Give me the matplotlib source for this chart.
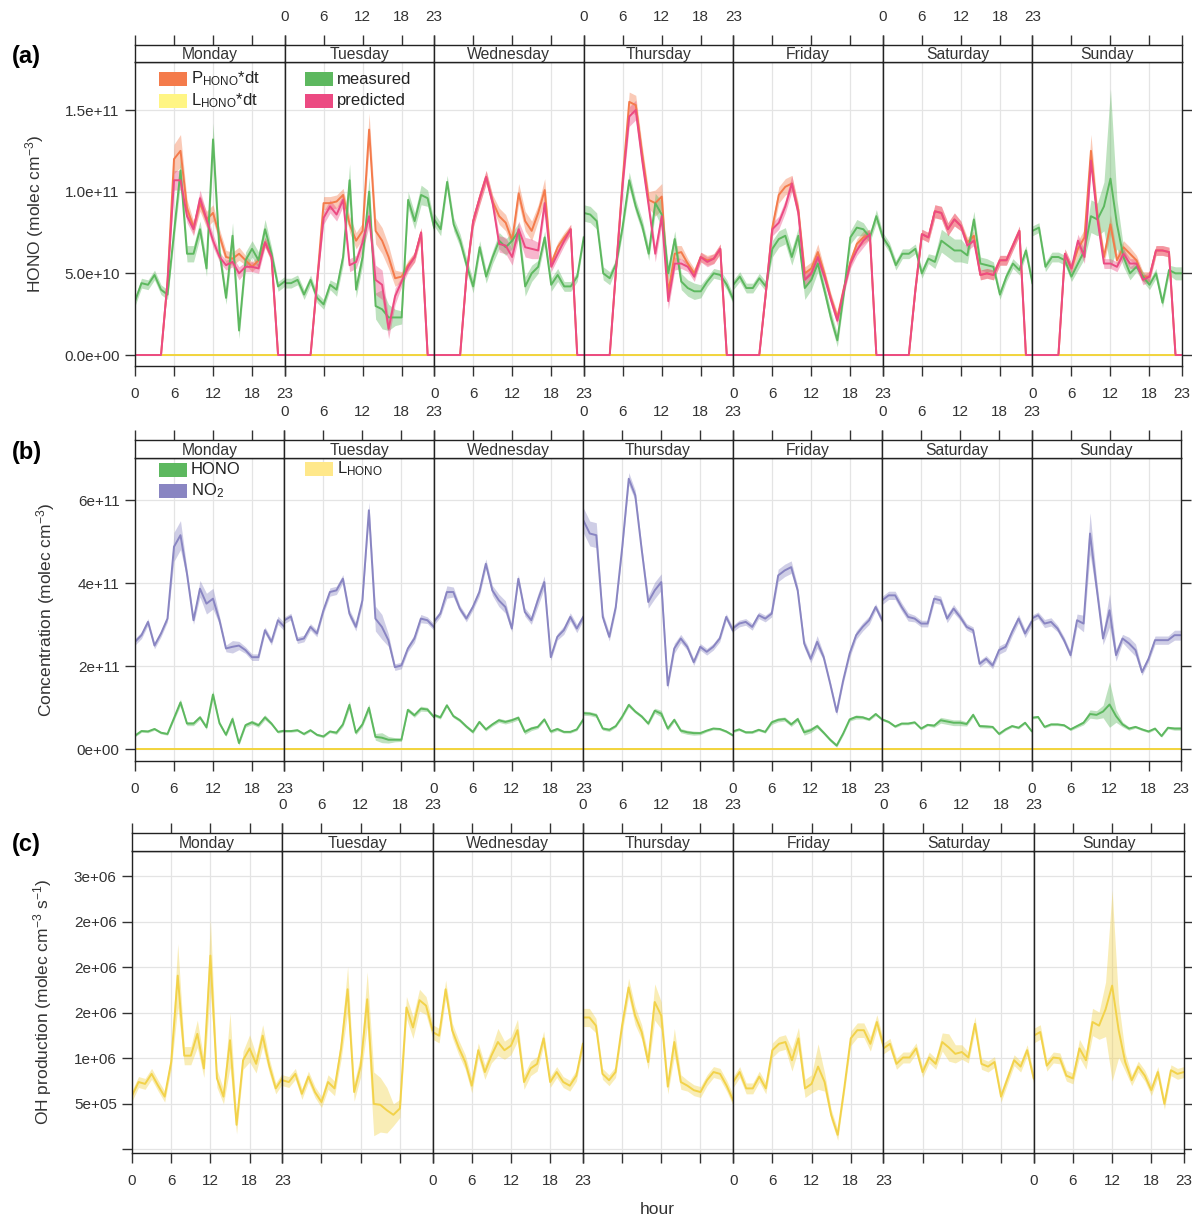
import numpy as np
import matplotlib
matplotlib.use('Agg')
import matplotlib.pyplot as plt
from matplotlib.patches import Rectangle

plt.rcParams['font.family'] = ['Liberation Sans', 'DejaVu Sans']
plt.rcParams['mathtext.default'] = 'regular'

days = ['Monday', 'Tuesday', 'Wednesday', 'Thursday', 'Friday', 'Saturday', 'Sunday']
hours = np.arange(24)

# panel (a): HONO, units of 1e10 molec cm-3, one row of 24 hours per day
measured = [
    [3.3, 4.4, 4.3, 4.9, 4.0, 3.7, 7.5, 11.3, 6.2, 6.2, 7.7, 5.3, 13.2, 6.3, 3.5, 7.3, 1.5, 5.8, 6.5, 5.8, 7.7, 6.2, 4.2, 4.5],
    [4.4, 4.4, 4.6, 3.7, 4.6, 3.5, 3.1, 4.3, 4.0, 6.0, 10.7, 4.0, 6.0, 10.0, 3.0, 2.8, 2.3, 2.3, 2.3, 9.5, 8.2, 9.8, 9.6, 7.8],
    [8.3, 7.7, 10.6, 8.0, 7.0, 5.5, 4.2, 6.6, 4.8, 6.0, 7.0, 6.6, 7.0, 7.6, 4.2, 5.0, 5.4, 7.2, 4.3, 4.9, 4.2, 4.2, 4.8, 7.2],
    [8.7, 8.6, 8.2, 5.0, 4.7, 5.6, 7.9, 10.7, 9.1, 7.9, 6.2, 9.3, 8.6, 5.0, 7.1, 4.5, 4.1, 3.9, 3.9, 4.5, 5.0, 4.9, 4.3, 3.4],
    [4.3, 4.8, 4.1, 4.1, 4.7, 4.2, 6.5, 7.1, 7.3, 6.0, 7.3, 4.1, 4.6, 5.6, 4.0, 2.3, 0.9, 3.8, 7.2, 7.8, 7.7, 7.2, 8.5, 7.2],
    [7.2, 6.6, 5.5, 6.2, 6.2, 6.5, 5.0, 5.9, 5.7, 7.0, 6.7, 6.4, 6.4, 6.1, 8.3, 5.6, 5.5, 5.4, 3.7, 4.8, 5.6, 5.2, 6.4, 4.4],
    [7.6, 7.8, 5.4, 6.0, 6.0, 5.8, 4.8, 5.6, 6.4, 8.5, 8.3, 9.1, 10.8, 8.0, 6.0, 5.0, 5.4, 4.8, 4.3, 5.0, 3.2, 5.2, 5.0, 5.0],
]
measured_w = [
    [0.3, 0.3, 0.3, 0.3, 0.3, 0.3, 0.5, 0.8, 0.5, 0.5, 0.5, 0.5, 1.0, 0.5, 0.4, 0.8, 0.5, 0.5, 0.5, 0.5, 0.6, 0.4, 0.3, 0.3],
    [0.3, 0.3, 0.3, 0.3, 0.3, 0.3, 0.3, 0.3, 0.4, 0.5, 1.0, 0.5, 0.5, 0.9, 0.8, 1.2, 0.8, 0.5, 0.4, 0.5, 0.5, 0.6, 0.5, 0.4],
    [0.4, 0.4, 0.4, 0.4, 0.4, 0.4, 0.4, 0.4, 0.4, 0.4, 0.5, 0.5, 0.5, 0.5, 0.6, 0.5, 0.4, 0.4, 0.4, 0.4, 0.3, 0.3, 0.3, 0.3],
    [0.5, 0.5, 0.5, 0.4, 0.4, 0.3, 0.4, 0.5, 0.4, 0.4, 0.4, 0.6, 0.8, 0.5, 0.5, 0.5, 0.5, 0.5, 0.4, 0.3, 0.3, 0.3, 0.3, 0.3],
    [0.3, 0.3, 0.3, 0.3, 0.3, 0.3, 0.5, 0.5, 0.5, 0.5, 0.5, 0.7, 0.6, 0.5, 0.4, 0.4, 0.4, 0.4, 0.4, 0.5, 0.4, 0.3, 0.4, 0.3],
    [0.3, 0.3, 0.3, 0.3, 0.3, 0.3, 0.3, 0.3, 0.4, 0.7, 0.7, 0.7, 0.7, 0.5, 0.5, 0.4, 0.4, 0.3, 0.3, 0.3, 0.3, 0.3, 0.3, 0.3],
    [0.3, 0.3, 0.3, 0.3, 0.3, 0.3, 0.3, 0.4, 0.5, 1.0, 1.0, 1.5, 5.5, 1.5, 0.6, 0.4, 0.3, 0.3, 0.3, 0.3, 0.3, 0.3, 0.4, 0.4],
]
predicted = [
    [0, 0, 0, 0, 0, 4.5, 10.7, 10.7, 8.5, 7.7, 9.6, 8.3, 7.0, 6.0, 5.5, 5.7, 5.0, 5.4, 5.4, 5.3, 6.9, 6.0, 0, 0],
    [0, 0, 0, 0, 0, 4.5, 8.4, 9.1, 8.6, 9.5, 5.5, 5.7, 6.9, 8.5, 4.6, 4.3, 1.6, 3.6, 4.5, 5.4, 6.0, 7.5, 0, 0],
    [0, 0, 0, 0, 0, 5.0, 8.2, 9.6, 10.9, 9.3, 6.8, 6.7, 6.0, 7.7, 6.6, 6.5, 6.4, 9.3, 5.4, 6.2, 7.0, 7.7, 0, 0],
    [0, 0, 0, 0, 0, 5.4, 10.5, 14.6, 15.0, 11.9, 9.1, 6.2, 8.5, 3.3, 5.6, 5.6, 5.4, 4.8, 6.0, 5.7, 5.9, 6.5, 0, 0],
    [0, 0, 0, 0, 0, 3.8, 7.7, 8.1, 9.1, 10.5, 8.7, 4.6, 5.0, 6.0, 4.8, 3.4, 2.1, 4.0, 5.6, 6.4, 7.0, 7.4, 0, 0],
    [0, 0, 0, 0, 0, 4.0, 7.4, 7.2, 8.8, 8.7, 7.7, 8.3, 7.9, 6.7, 7.0, 4.9, 5.0, 4.9, 5.8, 5.8, 6.7, 7.6, 0, 0],
    [0, 0, 0, 0, 0, 6.2, 5.3, 7.0, 6.0, 11.9, 8.3, 5.6, 5.6, 5.4, 6.2, 5.6, 5.6, 4.6, 4.8, 6.4, 6.4, 6.3, 0, 0],
]
predicted_w = [
    [0, 0, 0, 0, 0, 0.3, 0.6, 0.6, 0.4, 0.4, 0.5, 0.4, 0.4, 0.3, 0.3, 0.3, 0.4, 0.3, 0.3, 0.3, 0.3, 0.3, 0, 0],
    [0, 0, 0, 0, 0, 0.3, 0.4, 0.4, 0.4, 0.4, 0.4, 0.4, 0.5, 0.6, 0.9, 0.9, 0.6, 0.5, 0.3, 0.3, 0.3, 0.3, 0, 0],
    [0, 0, 0, 0, 0, 0.3, 0.4, 0.4, 0.4, 0.4, 0.5, 0.5, 0.5, 0.5, 0.6, 0.6, 0.5, 0.5, 0.3, 0.3, 0.3, 0.3, 0, 0],
    [0, 0, 0, 0, 0, 0.3, 0.4, 0.6, 0.6, 0.5, 0.4, 0.5, 0.5, 0.5, 0.4, 0.3, 0.3, 0.3, 0.3, 0.3, 0.3, 0.3, 0, 0],
    [0, 0, 0, 0, 0, 0.3, 0.4, 0.4, 0.4, 0.5, 0.4, 0.4, 0.4, 0.4, 0.3, 0.3, 0.3, 0.3, 0.3, 0.3, 0.4, 0.3, 0, 0],
    [0, 0, 0, 0, 0, 0.3, 0.3, 0.3, 0.4, 0.4, 0.4, 0.4, 0.3, 0.3, 0.3, 0.3, 0.3, 0.3, 0.3, 0.3, 0.3, 0.3, 0, 0],
    [0, 0, 0, 0, 0, 0.3, 0.3, 0.4, 0.4, 0.6, 0.4, 0.3, 0.3, 0.3, 0.3, 0.3, 0.3, 0.3, 0.3, 0.3, 0.3, 0.3, 0, 0],
]
p_hono = [
    [0, 0, 0, 0, 0, 4.5, 12.0, 12.5, 9.0, 7.8, 9.3, 8.3, 8.7, 7.3, 6.0, 5.9, 6.2, 5.8, 5.4, 5.8, 6.9, 6.0, 0, 0],
    [0, 0, 0, 0, 0, 4.5, 9.3, 9.3, 9.4, 9.8, 8.0, 7.0, 7.6, 13.8, 7.6, 7.0, 6.0, 4.7, 4.8, 5.5, 6.0, 7.5, 0, 0],
    [0, 0, 0, 0, 0, 5.0, 8.2, 9.6, 10.9, 9.4, 8.5, 8.1, 7.0, 9.9, 8.2, 7.6, 8.7, 10.1, 5.6, 6.6, 7.2, 7.7, 0, 0],
    [0, 0, 0, 0, 0, 5.4, 10.8, 15.5, 15.3, 12.3, 9.5, 9.3, 9.7, 3.8, 6.2, 6.3, 5.6, 5.0, 6.0, 5.8, 5.9, 6.5, 0, 0],
    [0, 0, 0, 0, 0, 3.8, 7.8, 9.8, 10.3, 10.5, 8.9, 5.0, 5.3, 6.3, 5.0, 3.5, 2.3, 4.1, 5.7, 6.8, 7.2, 7.4, 0, 0],
    [0, 0, 0, 0, 0, 4.0, 7.4, 7.2, 8.8, 8.7, 7.7, 8.3, 7.9, 6.9, 7.3, 4.9, 5.0, 4.9, 5.8, 5.8, 6.7, 7.6, 0, 0],
    [0, 0, 0, 0, 0, 6.2, 5.3, 6.5, 7.2, 12.5, 8.5, 6.0, 8.0, 5.8, 6.6, 6.2, 5.8, 4.8, 4.8, 6.4, 6.4, 6.3, 0, 0],
]
p_hono_w = [
    [0, 0, 0, 0, 0, 0.3, 0.9, 1.0, 0.5, 0.4, 0.5, 0.5, 0.5, 0.4, 0.4, 0.4, 0.4, 0.3, 0.3, 0.3, 0.3, 0.3, 0, 0],
    [0, 0, 0, 0, 0, 0.3, 0.4, 0.4, 0.4, 0.4, 0.5, 0.5, 0.5, 1.0, 0.8, 0.8, 0.7, 0.5, 0.3, 0.3, 0.3, 0.3, 0, 0],
    [0, 0, 0, 0, 0, 0.3, 0.4, 0.4, 0.4, 0.4, 0.5, 0.5, 0.5, 0.6, 0.6, 0.6, 0.5, 0.7, 0.3, 0.3, 0.3, 0.3, 0, 0],
    [0, 0, 0, 0, 0, 0.3, 0.4, 0.6, 0.6, 0.5, 0.5, 0.8, 0.8, 0.5, 0.5, 0.4, 0.3, 0.3, 0.3, 0.3, 0.3, 0.3, 0, 0],
    [0, 0, 0, 0, 0, 0.3, 0.4, 0.5, 0.5, 0.5, 0.4, 0.4, 0.4, 0.5, 0.3, 0.3, 0.3, 0.3, 0.3, 0.3, 0.4, 0.3, 0, 0],
    [0, 0, 0, 0, 0, 0.3, 0.3, 0.3, 0.4, 0.4, 0.4, 0.4, 0.3, 0.3, 0.3, 0.3, 0.3, 0.3, 0.3, 0.3, 0.3, 0.3, 0, 0],
    [0, 0, 0, 0, 0, 0.3, 0.3, 0.5, 0.5, 1.0, 0.5, 0.4, 0.6, 0.4, 0.4, 0.4, 0.3, 0.3, 0.3, 0.3, 0.3, 0.3, 0, 0],
]
l_hono = [[0.0] * 24 for d in days]

# panel (b): HONO and NO2, units of 1e11 molec cm-3
hono_b = [[v * 0.1 for v in row] for row in measured]
hono_b_w = [[v * 0.1 for v in row] for row in measured_w]
no2 = [
    [2.59, 2.75, 3.07, 2.50, 2.79, 3.15, 4.88, 5.16, 4.23, 3.11, 3.87, 3.51, 3.63, 3.11, 2.43, 2.47, 2.50, 2.39, 2.22, 2.22, 2.87, 2.59, 3.11, 2.95],
    [3.11, 3.20, 2.63, 2.67, 2.95, 2.79, 3.35, 3.79, 3.83, 4.11, 3.27, 2.95, 3.59, 5.76, 3.15, 2.95, 2.63, 1.98, 2.02, 2.43, 2.67, 3.15, 3.11, 2.95],
    [3.07, 3.27, 3.79, 3.79, 3.39, 3.15, 3.43, 3.79, 4.47, 3.83, 3.59, 3.43, 2.91, 4.11, 3.31, 3.11, 3.59, 4.03, 2.22, 2.71, 2.87, 3.19, 2.91, 3.19],
    [5.52, 5.20, 5.16, 3.19, 2.71, 3.43, 4.88, 6.52, 6.12, 4.80, 3.55, 3.83, 4.03, 1.54, 2.43, 2.67, 2.47, 2.10, 2.47, 2.35, 2.47, 2.67, 3.19, 2.87],
    [2.91, 3.03, 3.07, 2.95, 3.23, 3.15, 3.27, 4.19, 4.31, 4.39, 3.83, 2.55, 2.18, 2.59, 2.22, 1.58, 0.90, 1.66, 2.31, 2.75, 2.95, 3.11, 3.43, 3.11],
    [3.59, 3.71, 3.71, 3.43, 3.19, 3.15, 3.03, 3.03, 3.63, 3.59, 3.15, 3.39, 3.19, 2.95, 2.87, 2.06, 2.18, 2.02, 2.39, 2.47, 2.83, 3.15, 2.79, 3.07],
    [3.15, 3.23, 3.03, 3.07, 2.91, 2.63, 2.27, 3.11, 3.03, 5.20, 3.91, 2.67, 3.35, 2.27, 2.67, 2.55, 2.39, 1.86, 2.18, 2.63, 2.63, 2.63, 2.75, 2.75],
]
no2_w = [
    [0.08, 0.08, 0.08, 0.08, 0.08, 0.08, 0.35, 0.35, 0.12, 0.10, 0.20, 0.25, 0.25, 0.10, 0.08, 0.15, 0.10, 0.08, 0.08, 0.08, 0.08, 0.08, 0.10, 0.10],
    [0.08, 0.08, 0.08, 0.08, 0.08, 0.08, 0.08, 0.10, 0.10, 0.10, 0.10, 0.10, 0.10, 0.20, 0.30, 0.30, 0.15, 0.08, 0.08, 0.08, 0.10, 0.10, 0.08, 0.08],
    [0.08, 0.08, 0.15, 0.12, 0.08, 0.08, 0.08, 0.10, 0.12, 0.12, 0.15, 0.15, 0.08, 0.10, 0.10, 0.10, 0.15, 0.15, 0.08, 0.08, 0.10, 0.10, 0.10, 0.08],
    [0.30, 0.30, 0.30, 0.10, 0.10, 0.10, 0.10, 0.15, 0.12, 0.10, 0.15, 0.20, 0.20, 0.10, 0.12, 0.10, 0.08, 0.08, 0.08, 0.08, 0.08, 0.08, 0.08, 0.08],
    [0.08, 0.08, 0.08, 0.08, 0.08, 0.08, 0.08, 0.15, 0.15, 0.15, 0.10, 0.10, 0.10, 0.15, 0.08, 0.08, 0.08, 0.08, 0.10, 0.10, 0.10, 0.10, 0.08, 0.08],
    [0.10, 0.10, 0.10, 0.10, 0.10, 0.08, 0.08, 0.08, 0.10, 0.10, 0.10, 0.10, 0.08, 0.08, 0.08, 0.08, 0.08, 0.08, 0.10, 0.10, 0.10, 0.10, 0.10, 0.10],
    [0.08, 0.08, 0.10, 0.10, 0.08, 0.08, 0.08, 0.15, 0.20, 0.50, 0.20, 0.15, 0.40, 0.15, 0.10, 0.15, 0.15, 0.08, 0.08, 0.10, 0.10, 0.10, 0.12, 0.12],
]

# panel (c): OH production, units of 1e6 molec cm-3 s-1
oh_prod = [
    [0.59, 0.74, 0.72, 0.83, 0.70, 0.58, 0.96, 1.91, 1.03, 1.03, 1.27, 0.89, 2.13, 0.78, 0.58, 1.20, 0.27, 0.98, 1.11, 0.94, 1.25, 0.92, 0.67, 0.78],
    [0.76, 0.74, 0.83, 0.61, 0.80, 0.63, 0.52, 0.74, 0.67, 1.11, 1.76, 0.63, 0.92, 1.65, 0.50, 0.49, 0.43, 0.38, 0.45, 1.56, 1.34, 1.64, 1.58, 1.31],
    [1.29, 1.25, 1.76, 1.31, 1.12, 0.96, 0.70, 1.09, 0.85, 1.03, 1.18, 1.09, 1.14, 1.31, 0.74, 0.89, 0.94, 1.22, 0.74, 0.85, 0.74, 0.70, 0.81, 1.16],
    [1.45, 1.45, 1.36, 0.83, 0.76, 0.85, 1.36, 1.78, 1.47, 1.29, 0.96, 1.62, 1.47, 0.69, 1.18, 0.74, 0.70, 0.65, 0.63, 0.76, 0.85, 0.83, 0.70, 0.54],
    [0.74, 0.85, 0.67, 0.67, 0.80, 0.67, 1.09, 1.16, 1.18, 0.98, 1.22, 0.67, 0.72, 0.91, 0.74, 0.38, 0.16, 0.67, 1.22, 1.31, 1.31, 1.16, 1.40, 1.14],
    [1.11, 1.16, 0.94, 1.01, 1.01, 1.11, 0.85, 1.01, 0.94, 1.18, 1.12, 1.05, 1.07, 1.01, 1.38, 0.94, 0.91, 0.96, 0.58, 0.78, 0.98, 0.91, 1.09, 0.78],
    [1.25, 1.29, 0.92, 1.01, 1.00, 0.81, 0.78, 1.11, 0.98, 1.40, 1.36, 1.54, 1.80, 1.31, 0.96, 0.76, 0.91, 0.81, 0.65, 0.85, 0.50, 0.87, 0.83, 0.85],
]
oh_prod_w = [
    [0.06, 0.06, 0.06, 0.06, 0.06, 0.06, 0.08, 0.35, 0.10, 0.10, 0.15, 0.10, 0.40, 0.10, 0.08, 0.30, 0.10, 0.10, 0.15, 0.10, 0.12, 0.08, 0.06, 0.06],
    [0.06, 0.06, 0.06, 0.06, 0.06, 0.06, 0.06, 0.08, 0.08, 0.12, 0.25, 0.10, 0.12, 0.30, 0.35, 0.30, 0.25, 0.12, 0.10, 0.12, 0.12, 0.12, 0.10, 0.08],
    [0.08, 0.08, 0.10, 0.08, 0.08, 0.08, 0.08, 0.08, 0.08, 0.08, 0.15, 0.10, 0.10, 0.12, 0.08, 0.08, 0.08, 0.08, 0.06, 0.06, 0.06, 0.06, 0.06, 0.06],
    [0.10, 0.10, 0.08, 0.06, 0.06, 0.06, 0.08, 0.10, 0.10, 0.08, 0.08, 0.20, 0.15, 0.08, 0.15, 0.08, 0.06, 0.06, 0.06, 0.06, 0.06, 0.06, 0.06, 0.06],
    [0.06, 0.06, 0.06, 0.06, 0.06, 0.06, 0.08, 0.08, 0.08, 0.12, 0.12, 0.10, 0.10, 0.25, 0.10, 0.06, 0.06, 0.06, 0.08, 0.08, 0.08, 0.08, 0.08, 0.06],
    [0.06, 0.06, 0.06, 0.06, 0.06, 0.06, 0.06, 0.06, 0.06, 0.10, 0.15, 0.10, 0.08, 0.06, 0.08, 0.06, 0.06, 0.06, 0.06, 0.06, 0.06, 0.06, 0.06, 0.06],
    [0.08, 0.08, 0.06, 0.06, 0.06, 0.06, 0.06, 0.10, 0.10, 0.15, 0.15, 0.30, 1.05, 0.30, 0.10, 0.06, 0.06, 0.06, 0.06, 0.06, 0.06, 0.06, 0.06, 0.06],
]

ORANGE = '#F47B4B'
YELLOW = '#F2D43C'
GREEN = '#5DB85F'
PINK = '#EC4A82'
PURPLE = '#8985C2'
OH_COL = '#F2D24A'

W, H = 1192, 1219
fig = plt.figure(figsize=(W / 100, H / 100), dpi=100)


def fx(x):
    return x / W


def fy(y):
    return 1 - y / H


def draw_panel(box, series, scale, ylim, yticks, ylabels, ylabel, ylabel_x, tag):
    left, right, s_top, s_bot, bottom = box
    dw = (right - left) / 7
    for d, day in enumerate(days):
        x0 = left + d * dw
        ax = fig.add_axes([fx(x0), fy(bottom), dw / W, (bottom - s_bot) / H])
        st = fig.add_axes([fx(x0), fy(s_bot), dw / W, (s_bot - s_top) / H])
        for vals, wid, col in series:
            v = np.array(vals[d]) * scale
            w = np.array(wid[d]) * scale
            ax.fill_between(hours, v - w, v + w, color=col, alpha=0.4, lw=0)
            ax.plot(hours, v, color=col, lw=1.4, solid_joinstyle='round')
        ax.set_xlim(0, 23)
        ax.set_ylim(*ylim)
        ax.set_xticks([0, 6, 12, 18, 23])
        ax.set_yticks(yticks, ylabels)
        ax.grid(True, color='#e4e4e4', lw=0.9)
        ax.set_axisbelow(True)
        ax.tick_params(direction='out', length=7, width=1, labelsize=11, colors='#333333')
        ax.tick_params(axis='x', top=False, bottom=True, labelbottom=(d % 2 == 0), pad=8)
        ax.tick_params(axis='y', left=(d == 0), right=(d == 6), labelleft=(d == 0), labelright=False, pad=4)
        for sp in ax.spines.values():
            sp.set_linewidth(1)
            sp.set_color('#222222')
        st.set_xlim(0, 23)
        st.set_ylim(0, 1)
        st.set_yticks([])
        st.set_xticks([0, 6, 12, 18, 23])
        st.tick_params(axis='x', direction='out', length=7, width=1, top=True, bottom=False,
                       labeltop=(d % 2 == 1), labelbottom=False, labelsize=11, colors='#333333', pad=8)
        for sp in st.spines.values():
            sp.set_linewidth(1)
            sp.set_color('#222222')
        st.text(11.5, 0.42, day, ha='center', va='center', fontsize=11.3, color='#333333')
    mid = (s_bot + bottom) / 2
    fig.text(fx(ylabel_x), fy(mid), ylabel, rotation=90, ha='center', va='center', fontsize=12.5, color='#333333')
    fig.text(fx(12), fy(s_top + 12), tag, ha='left', va='center', fontsize=17, fontweight='bold')


def legend_item(x, y, col, label):
    fig.add_artist(Rectangle((fx(x), fy(y + 14)), 28 / W, 14 / H, transform=fig.transFigure,
                             facecolor=col, edgecolor='none'))
    fig.text(fx(x + 32), fy(y + 7), label, ha='left', va='center', fontsize=12, color='#222222')


# (a)
draw_panel((135, 1182, 45, 62, 366),
           [(p_hono, p_hono_w, ORANGE), (l_hono, l_hono, YELLOW),
            (measured, measured_w, GREEN), (predicted, predicted_w, PINK)],
           1e10, (-0.0673e11, 1.794e11), [0, 5e10, 1e11, 1.5e11],
           ['0.0e+00', '5.0e+10', '1.0e+11', '1.5e+11'],
           'HONO (molec cm$^{-3}$)', 35, '(a)')
legend_item(159, 72, ORANGE, 'P$_{HONO}$*dt')
legend_item(159, 94, '#FFF584', 'L$_{HONO}$*dt')
legend_item(305, 72, GREEN, 'measured')
legend_item(305, 94, PINK, 'predicted')

# (b)
draw_panel((135, 1181, 440, 458, 761),
           [(hono_b, hono_b_w, GREEN), (l_hono, l_hono, YELLOW), (no2, no2_w, PURPLE)],
           1e11, (-0.282e11, 7.02e11), [0, 2e11, 4e11, 6e11],
           ['0e+00', '2e+11', '4e+11', '6e+11'],
           'Concentration (molec cm$^{-3}$)', 46, '(b)')
legend_item(159, 463, GREEN, 'HONO')
legend_item(159, 484, PURPLE, 'NO$_2$')
legend_item(305, 462, '#FFE88A', 'L$_{HONO}$')

# (c)
draw_panel((132, 1184, 833, 851, 1153),
           [(oh_prod, oh_prod_w, OH_COL)],
           1e6, (-0.04e6, 3.28e6), [0, 5e5, 1e6, 1.5e6, 2e6, 2.5e6, 3e6],
           ['', '5e+05', '1e+06', '2e+06', '2e+06', '2e+06', '3e+06'],
           'OH production (molec cm$^{-3}$ s$^{-1}$)', 43, '(c)')

fig.text(fx(657), fy(1210), 'hour', ha='center', va='center', fontsize=12.5, color='#333333')

fig.savefig('out.png', dpi=100)
